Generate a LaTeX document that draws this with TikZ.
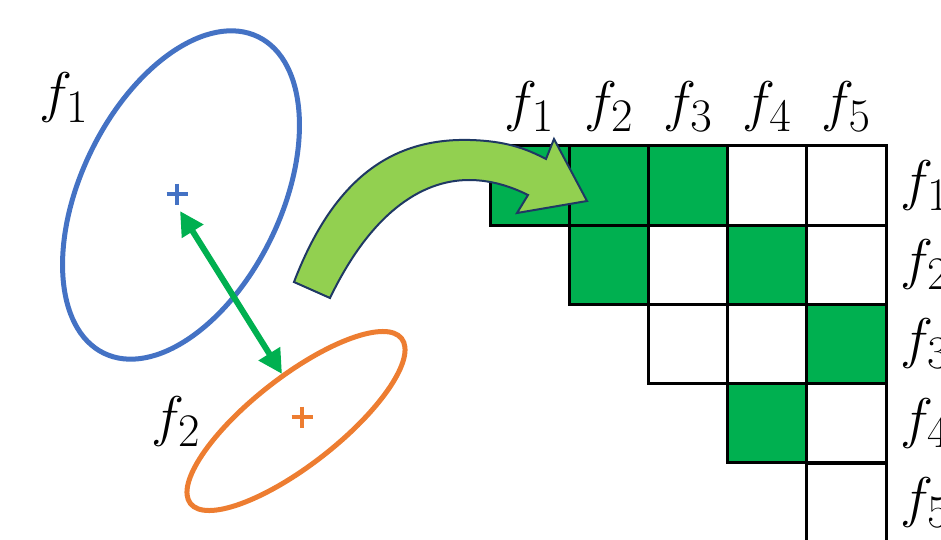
\documentclass[tikz,border=0pt]{standalone}
\usetikzlibrary{shapes.geometric,arrows.meta}
\definecolor{eblue}{HTML}{4472C4}
\definecolor{eorange}{HTML}{ED7D31}
\definecolor{cgreen}{HTML}{00B050}
\definecolor{agreen}{HTML}{92D050}
\definecolor{anavy}{HTML}{1F3864}
\newcommand{\flab}[1]{\scalebox{2.25}{\Huge$f_{#1}$}}
\begin{document}
\begin{tikzpicture}[x=1pt,y=-1pt,
  lab/.style={inner sep=0pt},
  cell/.style={draw=black, line width=3pt, minimum width=79.2pt, minimum height=79.2pt, inner sep=0pt, fill=white},
  gcell/.style={cell, fill=cgreen},
  plusmark/.style={line width=4pt},
  ell/.style={ellipse, line width=5pt, inner sep=0pt},
  darrow/.style={cgreen, line width=6pt, {Triangle[length=24pt,width=24pt]}-{Triangle[length=24pt,width=24pt]}}]
\useasboundingbox (0,0) rectangle (941,540);
% grid
\foreach \i/\j/\s in {1/1/gcell,1/2/gcell,1/3/gcell,1/4/cell,1/5/cell,2/2/gcell,2/3/cell,2/4/gcell,2/5/cell,3/3/cell,3/4/cell,3/5/gcell,4/4/gcell,4/5/cell}
  \node[\s] (c\i\j) at ({490+79.2*(\j-0.5)},{146+79.2*(\i-0.5)}) {};
\node[cell, minimum height=100pt, anchor=north] (c55) at (846.4,462.4) {};
% labels
\foreach \j in {1,...,5}
  \node[lab] (t\j) at ({490+79.2*(\j-0.5)},107) {\flab{\j}};
\foreach \i in {1,...,5}
  \node[lab, anchor=west] (r\i) at (900,{146+79.2*(\i-0.5)}) {\flab{\i}};
% ellipses
\node[ell, draw=eblue, minimum width=352pt, minimum height=200pt, rotate=64] (e1) at (181,195) {};
\node[ell, draw=eorange, minimum width=268pt, minimum height=88pt, rotate=38] (e2) at (296,421) {};
\node[lab] (l1) at (64,98) {\flab{1}};
\node[lab] (l2) at (176,422) {\flab{2}};
% centres
\coordinate (p1) at (177,194);
\coordinate (p2) at (302,417);
\draw[eblue, plusmark] (p1) +(-10.5,0) -- +(10.5,0) (p1) +(0,-10.5) -- +(0,10.5);
\draw[eorange, plusmark] (p2) +(-10.5,0) -- +(10.5,0) (p2) +(0,-10.5) -- +(0,10.5);
% distance arrow
\coordinate (a1) at (180,211);
\coordinate (a2) at (282,374);
\draw[darrow] (a1) -- (a2);
% big curved arrow
\draw[fill=agreen, draw=anavy, line width=2pt, line join=miter]
  (294,282) .. controls (335,175) and (395,138) .. (470,140)
  .. controls (505,141) and (525,148) .. (546,159)
  -- (554,139) -- (587,201) -- (517,213) -- (528,195)
  .. controls (510,186) and (490,180) .. (469,180)
  .. controls (420,180) and (370,215) .. (330,298) -- cycle;
\end{tikzpicture}
\end{document}
